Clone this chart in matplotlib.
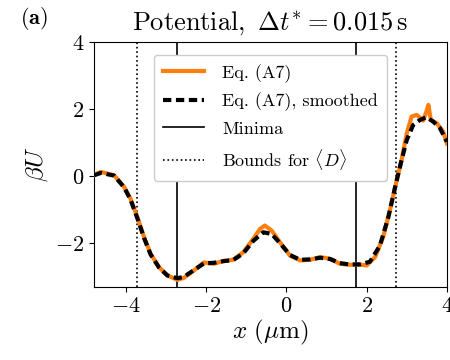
import matplotlib
matplotlib.use("Agg")
import matplotlib.pyplot as plt

plt.rcParams['mathtext.fontset'] = 'cm'
plt.rcParams['font.family'] = 'serif'
plt.rcParams['font.serif'] = ['cmr10', 'DejaVu Serif']
plt.rcParams['axes.formatter.use_mathtext'] = True
plt.rcParams['axes.unicode_minus'] = True

# Data
x_raw = [-4.8, -4.63, -4.3, -4.05, -3.89, -3.72, -3.55, -3.39, -3.18, -2.97, -2.72, -2.56,
         -2.31, -2.06, -1.81, -1.56, -1.33, -1.08, -0.83, -0.66, -0.54, -0.37, -0.16, 0.09,
         0.34, 0.59, 0.84, 1.09, 1.33, 1.58, 1.83, 2.0, 2.21, 2.41, 2.58, 2.75, 2.87, 3.0,
         3.12, 3.25, 3.41, 3.49, 3.54, 3.6, 3.75, 3.91, 4.0]
u_raw = [0.03, 0.13, 0.03, -0.32, -0.67, -1.22, -1.82, -2.31, -2.71, -2.96, -3.09, -3.03,
         -2.81, -2.57, -2.61, -2.52, -2.49, -2.27, -1.87, -1.57, -1.47, -1.62, -1.97, -2.37,
         -2.51, -2.49, -2.41, -2.46, -2.61, -2.64, -2.63, -2.66, -2.41, -1.82, -1.02, -0.12, 0.48, 1.28,
         1.78, 1.83, 1.66, 1.93, 2.13, 1.68, 1.58, 1.33, 0.98]

x_smooth = [-4.8, -4.63, -4.3, -4.05, -3.89, -3.72, -3.55, -3.39, -3.18, -2.97, -2.72, -2.56,
            -2.31, -2.06, -1.81, -1.56, -1.33, -1.08, -0.83, -0.58, -0.37, -0.16, 0.09, 0.34,
            0.59, 0.84, 1.09, 1.33, 1.58, 1.83, 2.08, 2.33, 2.54, 2.71, 2.87, 3.0, 3.16, 3.33,
            3.49, 3.66, 3.83, 4.0]
u_smooth = [0.03, 0.1, 0.02, -0.33, -0.7, -1.25, -1.85, -2.33, -2.72, -2.96, -3.04, -3.0,
            -2.8, -2.6, -2.58, -2.53, -2.5, -2.3, -1.93, -1.67, -1.72, -2.0, -2.35, -2.49,
            -2.48, -2.43, -2.47, -2.59, -2.63, -2.63, -2.55, -2.07, -1.22, -0.32, 0.48, 1.08, 1.53, 1.68,
            1.76, 1.63, 1.43, 1.03]

minima = [-2.72, 1.73]
bounds = [-3.73, 2.73]

xticks = [-4, -2, 0, 2, 4]
yticks = [-2, 0, 2, 4]

fig = plt.figure(figsize=(4.5, 3.6), dpi=100)
ax = fig.add_axes([0.209, 0.203, 0.784, 0.680])

ax.plot(x_raw, u_raw, color='#ff7f0e', lw=3.0, label='Eq. (A7)', zorder=3)
ax.plot(x_smooth, u_smooth, color='black', lw=3.0, ls=(0, (2.0, 1.1)), label='Eq. (A7), smoothed', zorder=4)
for i, m in enumerate(minima):
    ax.axvline(m, color='black', lw=1.2, label='Minima' if i == 0 else None, zorder=2)
for i, b in enumerate(bounds):
    ax.axvline(b, color='black', lw=1.2, ls=':', label=r'Bounds for $\langle D\rangle$' if i == 0 else None, zorder=2)

ax.set_xlim(-4.8, 4)
ax.set_ylim(-3.3, 4)
ax.set_xticks(xticks)
ax.set_yticks(yticks)
ax.tick_params(labelsize=16)
ax.set_xlabel(r'$x\ (\mu\mathrm{m})$', fontsize=18, labelpad=1)
ax.set_ylabel(r'$\beta U$', fontsize=18, labelpad=4)
ax.set_title(r'$\mathrm{Potential},\ \Delta t^{*} = 0.015\,\mathrm{s}$', fontsize=19, pad=9)
fig.text(0.045, 0.95, r'$\mathbf{(a)}$', fontsize=16, ha='left', va='center')

leg = ax.legend(loc='upper center', bbox_to_anchor=(0.5, 0.985), fontsize=13, handlelength=2.3,
                handletextpad=1.0, framealpha=1.0, labelspacing=0.55, borderpad=0.5)

fig.savefig('out.png', dpi=100)
